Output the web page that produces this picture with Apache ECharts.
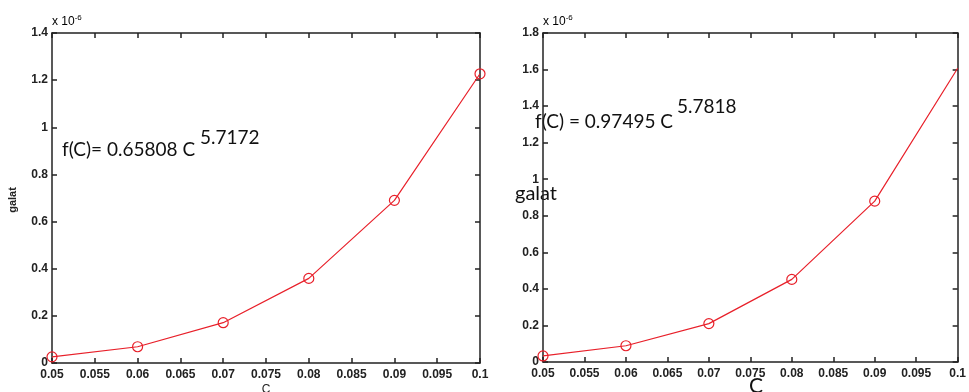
<!DOCTYPE html>
<html><head><meta charset="utf-8">
<script src="https://cdn.jsdelivr.net/npm/echarts@6/dist/echarts.min.js"></script>
<style>html,body{margin:0;padding:0;background:#fff}#c{width:969px;height:392px}</style>
</head><body><div id="c"></div>
<script>
const cValues = [0.05, 0.06, 0.07, 0.08, 0.09, 0.1];
const galatLeft = [0.026, 0.069, 0.171, 0.359, 0.69, 1.227];
const galatRight = [0.033, 0.089, 0.21, 0.452, 0.88, 1.607];
const leftYMax = 1.4, rightYMax = 1.8;
const fitLeft = ['f(C)= 0.65808 C', '5.7172'];
const fitRight = ['f(C) = 0.97495 C', '5.7818'];

const chart = echarts.init(document.getElementById('c'));
const tickFont = {fontFamily: 'Liberation Sans, Arial', fontSize: 12, color: '#222', fontWeight: 'bold'};
const lineStyle = {color: '#222', width: 1.5};
function xAx(grid, pos, labels) {
  return {type: 'value', gridIndex: grid, position: pos, min: 0.05, max: 0.1, interval: 0.005,
    axisLine: {onZero: false, lineStyle}, splitLine: {show: false},
    axisTick: {show: true, inside: true, length: 5, lineStyle},
    axisLabel: labels ? Object.assign({show: true, margin: 6, formatter: v => String(+v.toFixed(3))}, tickFont) : {show: false}};
}
function yAx(grid, pos, max, labels) {
  return {type: 'value', gridIndex: grid, position: pos, min: 0, max: max, interval: 0.2,
    axisLine: {onZero: false, lineStyle}, splitLine: {show: false},
    axisTick: {show: true, inside: true, length: 5, lineStyle},
    axisLabel: labels ? Object.assign({show: true, margin: 4, formatter: v => String(+v.toFixed(1))}, tickFont) : {show: false}};
}
const serie = (xi, yi, d, hideLast) => ({type: 'line', xAxisIndex: xi, yAxisIndex: yi,
  data: cValues.map((c, i) => ({value: [c, d[i]], symbolSize: (hideLast && i === cValues.length - 1) ? 0 : 10})),
  symbol: 'circle', clip: true,
  itemStyle: {color: 'transparent', borderColor: '#e8202a', borderWidth: 1.2},
  lineStyle: {color: '#e8202a', width: 1.2}});
const expo = {a: {fontFamily: 'Liberation Sans', fontSize: 12, color: '#222'}, b: {fontFamily: 'Liberation Sans', fontSize: 8, color: '#222', padding: [0,0,8,0]}};
chart.setOption({
  animation: false,
  grid: [
    {left: 52, top: 33, width: 428, height: 330},
    {left: 543, top: 33, width: 422, height: 329}
  ],
  xAxis: [xAx(0, 'bottom', true), xAx(0, 'top', false), xAx(1, 'bottom', true), xAx(1, 'top', false)],
  yAxis: [yAx(0, 'left', leftYMax, true), yAx(0, 'right', leftYMax, false), yAx(1, 'left', rightYMax, true), yAx(1, 'right', rightYMax, false)],
  series: [serie(0, 0, galatLeft, false), serie(2, 2, galatRight, true)],
  graphic: [
    {type: 'text', left: 52, top: 14, style: {text: '{a|x 10}{b|-6}', rich: expo}},
    {type: 'text', left: 543, top: 14, style: {text: '{a|x 10}{b|-6}', rich: expo}},
    {type: 'text', x: 13, y: 200, rotation: Math.PI / 2, style: {text: 'galat', fontFamily: 'Liberation Sans', fontSize: 11, fontWeight: 'bold', fill: '#222', align: 'center', verticalAlign: 'middle'}},
    {type: 'text', x: 266, y: 384, style: {text: 'C', fontFamily: 'Liberation Sans', fontSize: 12, fill: '#222', align: 'center'}},
    {type: 'text', x: 515, y: 184, style: {text: 'galat', fontFamily: 'Lato', fontSize: 20, fill: '#111'}},
    {type: 'text', x: 756, y: 376, style: {text: 'C', fontFamily: 'Lato', fontSize: 21, fill: '#111', align: 'center'}},
    {type: 'text', x: 62, y: 140, style: {text: fitLeft[0], fontFamily: 'Lato', fontSize: 19, fill: '#111'}},
    {type: 'text', x: 200, y: 128, style: {text: fitLeft[1], fontFamily: 'Lato', fontSize: 19, fill: '#111'}},
    {type: 'text', x: 535, y: 112, style: {text: fitRight[0], fontFamily: 'Lato', fontSize: 19, fill: '#111'}},
    {type: 'text', x: 677, y: 97, style: {text: fitRight[1], fontFamily: 'Lato', fontSize: 19, fill: '#111'}}
  ]
});
</script></body></html>
